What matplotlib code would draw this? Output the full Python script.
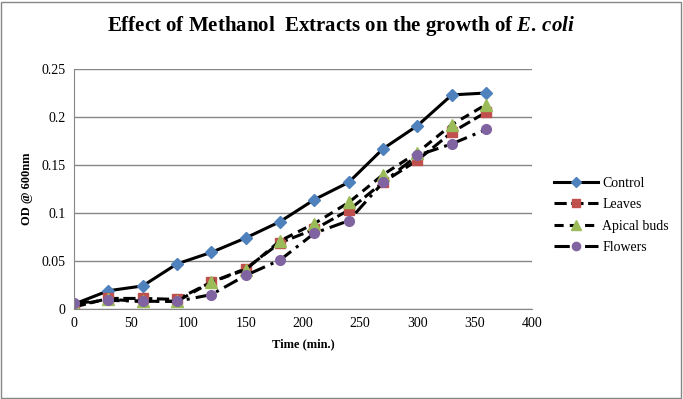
import matplotlib.pyplot as plt
from matplotlib.patches import Rectangle

# data
time = [0, 30, 60, 90, 120, 150, 180, 210, 240, 270, 300, 330, 360]
control = [0.005, 0.019, 0.024, 0.047, 0.059, 0.074, 0.091, 0.114, 0.132, 0.167, 0.191, 0.223, 0.225]
leaves = [0.002, 0.011, 0.011, 0.010, 0.028, 0.042, 0.069, 0.083, 0.103, 0.132, 0.155, 0.184, 0.205]
apical = [0.004, 0.010, 0.008, 0.008, 0.028, 0.041, 0.071, 0.089, 0.111, 0.140, 0.163, 0.192, 0.213]
flowers = [0.006, 0.009, 0.008, 0.008, 0.015, 0.035, 0.051, 0.079, 0.092, 0.132, 0.160, 0.172, 0.187]
labels = ['Control', 'Leaves', 'Apical buds', 'Flowers']

plt.rcParams['font.family'] = ['Liberation Serif', 'DejaVu Serif']
plt.rcParams['mathtext.fontset'] = 'custom'
plt.rcParams['mathtext.rm'] = 'Liberation Serif:bold'
plt.rcParams['mathtext.it'] = 'Liberation Serif:italic:bold'
plt.rcParams['mathtext.bf'] = 'Liberation Serif:bold'

fig = plt.figure(figsize=(6.83, 3.99), dpi=100)
fig.patches.append(Rectangle((0.002, 0.003), 0.995, 0.993, transform=fig.transFigure,
                             fill=False, edgecolor='#868686', linewidth=1))
ax = fig.add_axes([0.1083, 0.2256, 0.6706, 0.6015])

ax.plot(time, control, color='black', lw=2.2, ls='-', marker='D', ms=6,
        mfc='#4F81BD', mec='#4F81BD', label=labels[0])
ax.plot(time, leaves, color='black', lw=2.2, ls=(0, (4, 1.5)), marker='s', ms=7,
        mfc='#C0504D', mec='#C0504D', label=labels[1])
ax.plot(time, apical, color='black', lw=2.2, ls=(0, (3, 2)), marker='^', ms=8,
        mfc='#9BBB59', mec='#9BBB59', label=labels[2])
ax.plot(time, flowers, color='black', lw=2.2, ls=(0, (5, 2, 1, 2)), marker='o', ms=7,
        mfc='#8064A2', mec='#8064A2', label=labels[3])

ax.set_xlim(0, 400)
ax.set_ylim(0, 0.25)
ax.set_xticks(range(0, 401, 50))
ax.set_yticks([0, 0.05, 0.1, 0.15, 0.2, 0.25])
ax.set_yticklabels(['0', '0.05', '0.1', '0.15', '0.2', '0.25'])
ax.tick_params(labelsize=10, length=0, pad=6)
ax.grid(axis='y', color='#868686', lw=1)
ax.set_axisbelow(True)
for s in ['top', 'right']:
    ax.spines[s].set_visible(False)
for s in ['left', 'bottom']:
    ax.spines[s].set_color('#868686')

ax.set_xlabel('Time (min.)', fontsize=9, fontweight='bold', labelpad=6)
ax.set_ylabel('OD @ 600nm', fontsize=9, fontweight='bold', labelpad=6)

fig.text(0.5, 0.935, r'Effect of Methanol  Extracts on the growth of $\it{E.\,coli}$',
         ha='center', va='center', fontsize=15, fontweight='bold')

ax.legend(loc='center left', bbox_to_anchor=(1.02, 0.39), frameon=False,
          fontsize=10, handlelength=3.2, labelspacing=0.6, handletextpad=0.3,
          markerscale=0.85)

fig.savefig('out.png', dpi=100)
